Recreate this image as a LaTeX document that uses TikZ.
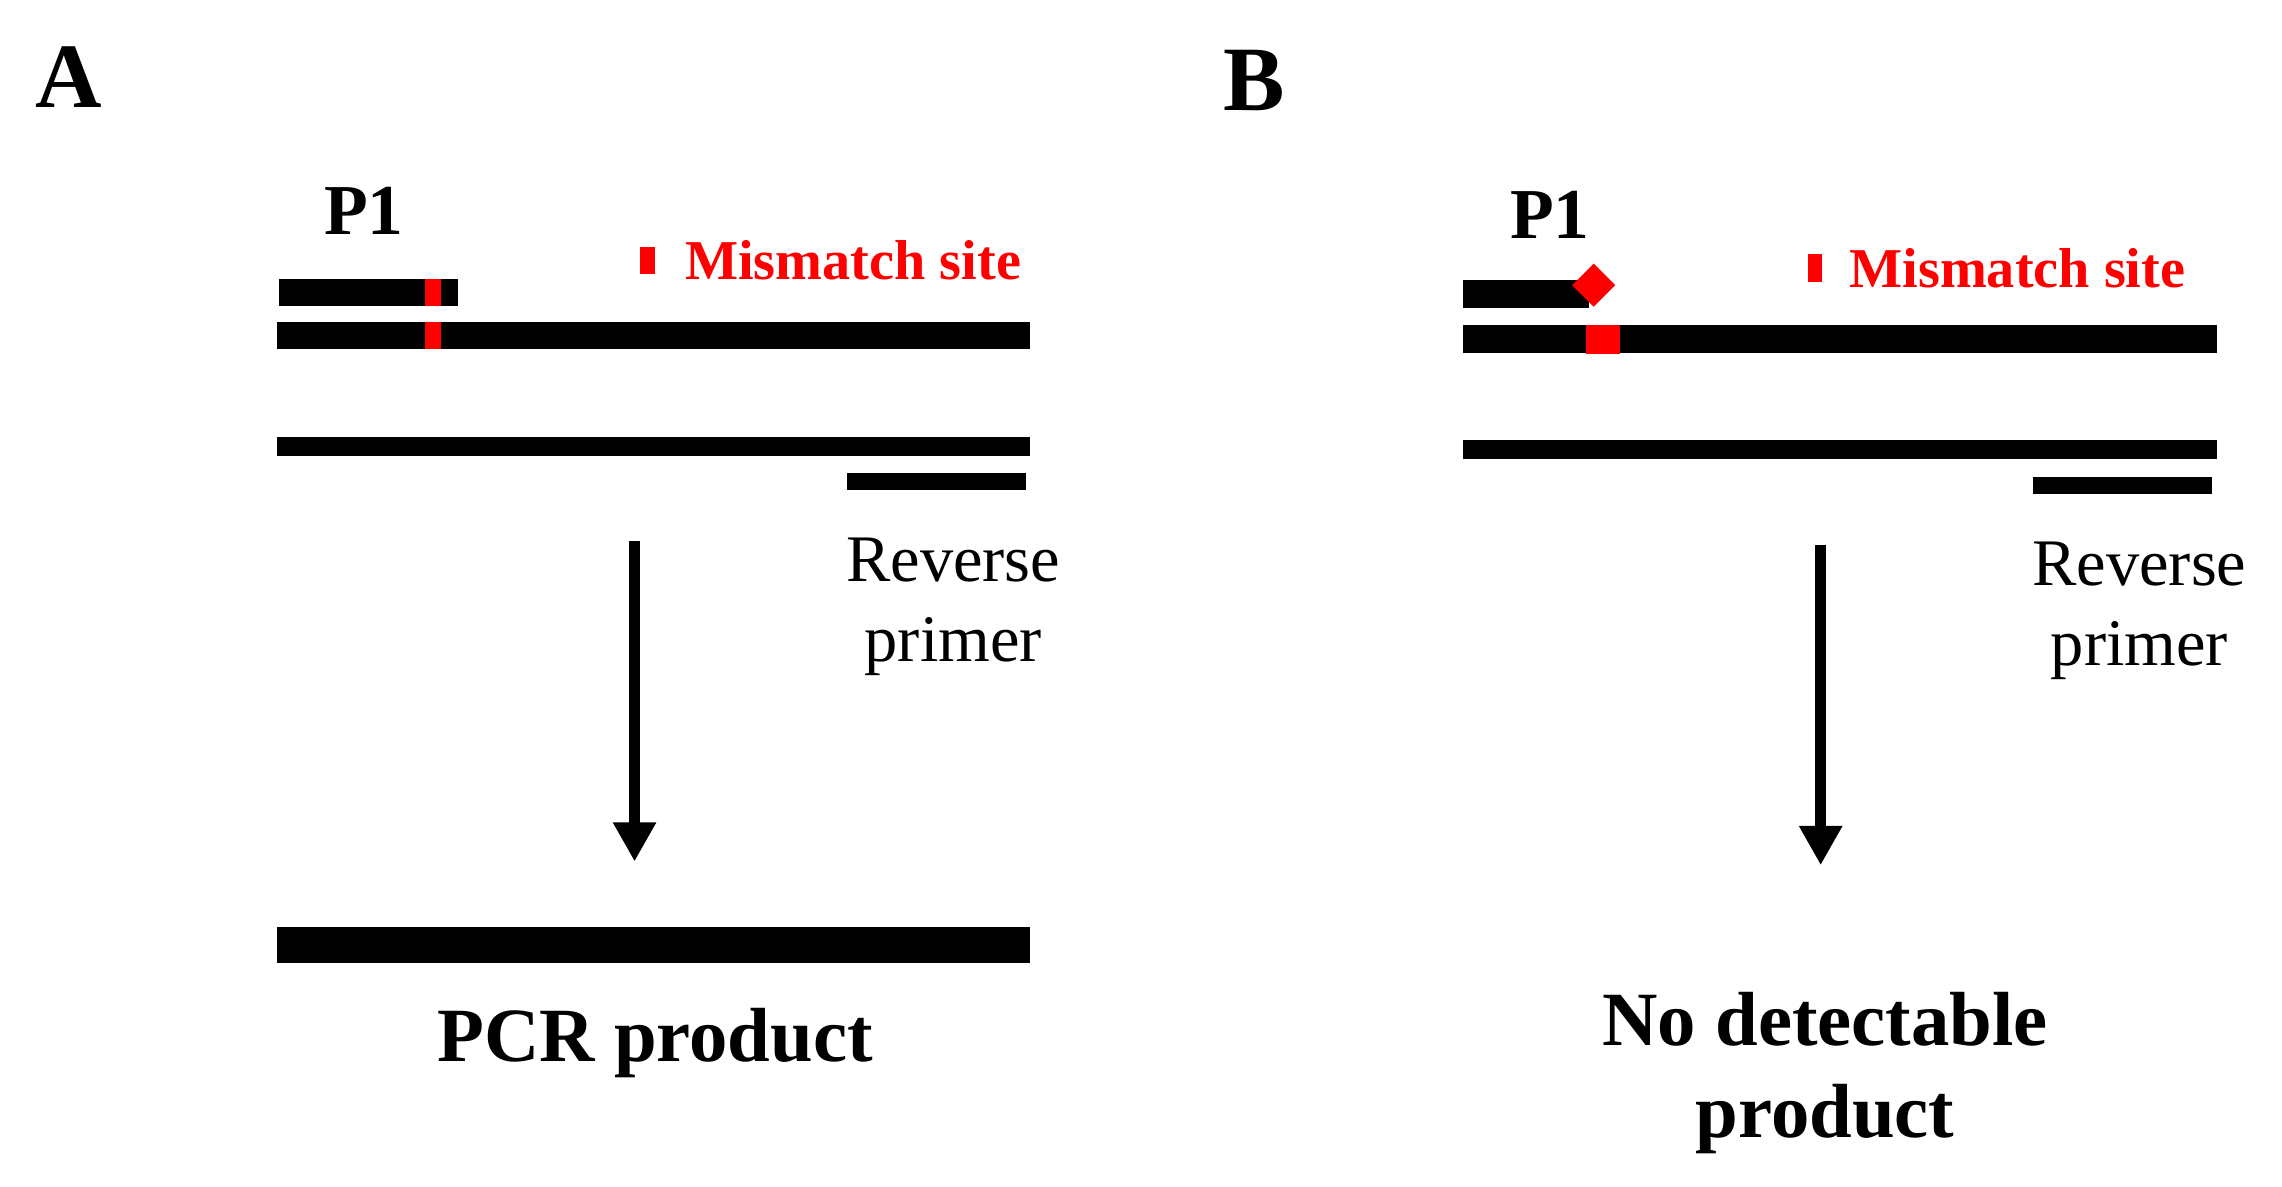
\documentclass[tikz,border=0pt]{standalone}
\usepackage{fontspec}
\setmainfont{Liberation Serif}
\usetikzlibrary{arrows.meta,positioning}
\definecolor{siteRed}{RGB}{255,0,0}
\tikzset{
  dna/.style={fill=black, inner sep=0pt, outer sep=0pt},
  sitebox/.style={fill=siteRed, inner sep=0pt, outer sep=0pt},
  panellbl/.style={font=\fontsize{18}{21}\selectfont\bfseries},
  primerlbl/.style={font=\fontsize{14}{17}\selectfont\bfseries},
  sitelbl/.style={font=\fontsize{11}{13}\selectfont\bfseries, text=siteRed, inner sep=0pt},
  revlbl/.style={font=\fontsize{13}{15.6}\selectfont, align=center},
  prodlbl/.style={font=\fontsize{15}{18}\selectfont\bfseries, align=center},
  flow/.style={line width=2.2pt, -{Triangle[length=0.27cm,width=0.28cm]}}
}

\begin{document}
\begin{tikzpicture}
  \useasboundingbox (0,0) rectangle (15.68,8.15);
  % parts both panels share
  \foreach \p/\dx/\dy in {A/0/0, B/8.15/-0.025} {
    \begin{scope}[xshift=\dx cm, yshift=\dy cm]
      \node[panellbl] (letter\p) at (0.47,7.62) {\p};
      \node[primerlbl] (plbl\p) at (2.50,6.70) {P1};
      \node[dna, minimum width=5.18cm, minimum height=0.19cm] (tmpl\p) at (4.49,5.845) {};
      \node[dna, minimum width=5.18cm, minimum height=0.13cm] (comp\p) at (4.49,5.085) {};
      \node[dna, minimum width=1.23cm, minimum height=0.12cm] (rev\p) at (6.435,4.84) {};
      \node[revlbl] (revlbl\p) at (6.55,3.98) {Reverse\\primer};
      \coordinate (from\p) at (4.36,4.43);
      \coordinate (to\p) at (4.36,2.23);
      \draw[flow] (from\p) -- (to\p);
    \end{scope}
  }
  % A: matched 3' end
  \node[dna, minimum width=1.23cm, minimum height=0.18cm] (primerA) at (2.535,6.14) {};
  \node[sitebox, minimum width=0.11cm, minimum height=0.18cm] (tipA) at (2.975,6.14) {};
  \node[sitebox, minimum width=0.11cm, minimum height=0.19cm] (siteA) at (2.975,5.845) {};
  \node[sitebox, minimum width=0.10cm, minimum height=0.19cm] (keyA) at (4.45,6.36) {};
  \node[sitelbl, right=0.2cm of keyA] (keylblA) {Mismatch site};
  \node[dna, minimum width=5.18cm, minimum height=0.25cm] (prodA) at (4.49,1.655) {};
  \node[prodlbl] (prodlblA) at (4.50,0.98) {PCR product};
  % B: mismatched 3' end
  \node[dna, minimum width=0.87cm, minimum height=0.19cm] (primerB) at (10.485,6.13) {};
  \node[sitebox, minimum size=0.21cm, rotate=45] (tipB) at (10.95,6.19) {};
  \node[sitebox, minimum width=0.23cm, minimum height=0.20cm] (siteB) at (11.015,5.82) {};
  \node[sitebox, minimum width=0.10cm, minimum height=0.19cm] (keyB) at (12.47,6.31) {};
  \node[sitelbl, right=0.18cm of keyB] (keylblB) {Mismatch site};
  \node[prodlbl] (prodlblB) at (12.54,0.78) {No detectable\\product};
\end{tikzpicture}
\end{document}
